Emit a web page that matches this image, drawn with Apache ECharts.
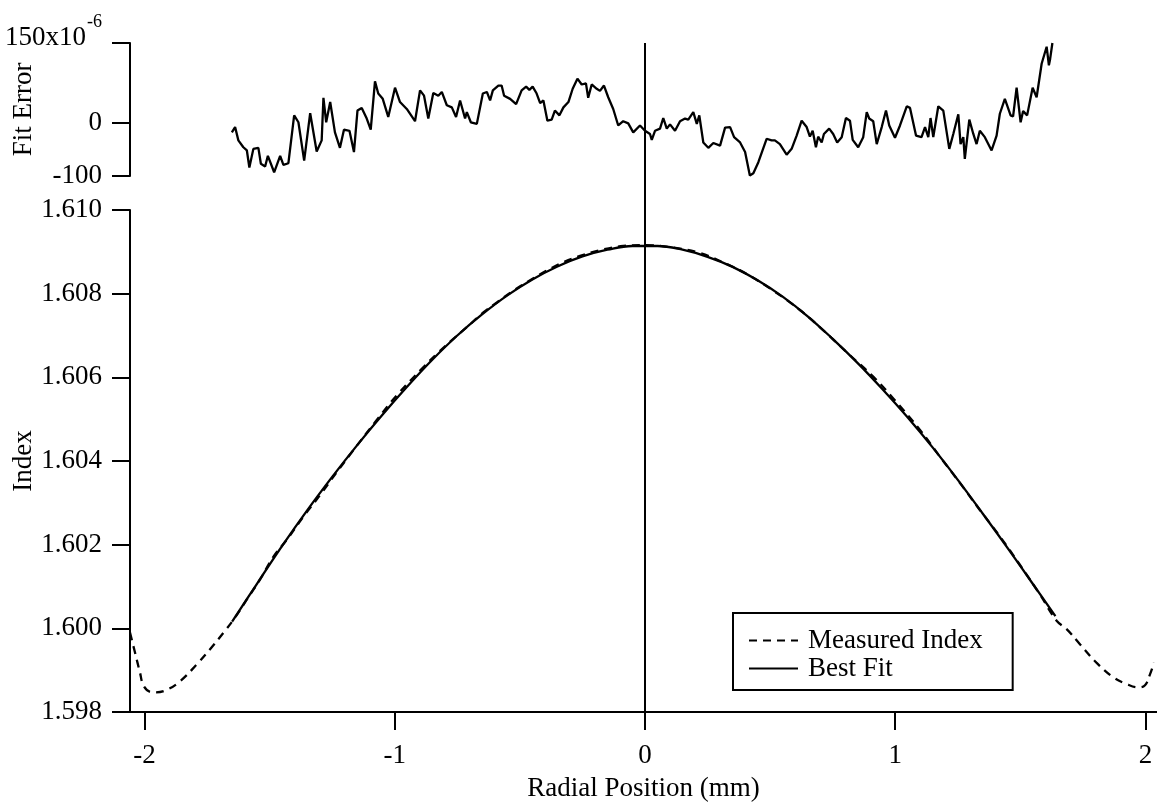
<!DOCTYPE html>
<html>
<head>
<meta charset="utf-8">
<title>Index profile and fit error</title>
<script src="https://cdn.jsdelivr.net/npm/echarts@6/dist/echarts.min.js"></script>
<style>
  html, body { margin: 0; padding: 0; background: #fff; }
  #chart { width: 1157px; height: 804px; }
</style>
</head>
<body>
<div id="chart"></div>
<script>
// Radial positions (mm) of the fit-error trace and its values (x10^-6)
const errX = [-1.651,-1.638,-1.625,-1.605,-1.591,-1.581,-1.565,-1.545,-1.535,-1.518,-1.507,-1.482,-1.458,-1.445,-1.425,-1.402,-1.385,-1.362,-1.338,-1.312,-1.292,-1.285,-1.274,-1.258,-1.239,-1.232,-1.219,-1.203,-1.181,-1.163,-1.149,-1.132,-1.112,-1.096,-1.079,-1.066,-1.048,-1.026,-0.999,-0.979,-0.952,-0.919,-0.899,-0.883,-0.866,-0.846,-0.826,-0.812,-0.792,-0.772,-0.755,-0.739,-0.719,-0.712,-0.696,-0.672,-0.648,-0.632,-0.619,-0.608,-0.586,-0.573,-0.563,-0.539,-0.515,-0.493,-0.475,-0.462,-0.449,-0.433,-0.419,-0.406,-0.390,-0.373,-0.360,-0.342,-0.326,-0.306,-0.289,-0.270,-0.253,-0.236,-0.227,-0.213,-0.193,-0.180,-0.164,-0.147,-0.127,-0.107,-0.087,-0.067,-0.047,-0.020,0.000,0.020,0.027,0.040,0.060,0.073,0.087,0.100,0.120,0.140,0.160,0.173,0.193,0.207,0.217,0.233,0.253,0.273,0.300,0.320,0.340,0.356,0.380,0.400,0.419,0.433,0.453,0.486,0.506,0.519,0.539,0.566,0.586,0.606,0.626,0.646,0.659,0.670,0.683,0.692,0.706,0.715,0.736,0.752,0.768,0.786,0.803,0.819,0.830,0.852,0.872,0.886,0.896,0.912,0.926,0.946,0.963,0.976,0.999,1.019,1.046,1.059,1.083,1.105,1.119,1.132,1.141,1.152,1.172,1.192,1.216,1.232,1.252,1.261,1.272,1.278,1.296,1.312,1.325,1.338,1.358,1.385,1.405,1.418,1.438,1.461,1.471,1.485,1.501,1.511,1.527,1.549,1.565,1.585,1.605,1.611,1.614,1.619,1.628];
const errV = [-18,-8,-33,-46,-52,-84,-49,-47,-77,-82,-62,-93,-62,-79,-76,14,1,-71,18,-54,-33,47,1,39,-18,-21,-47,-13,-15,-55,23,28,8,-13,78,55,45,11,66,39,26,3,61,51,8,56,51,58,33,29,11,42,8,20,1,-2,55,58,42,61,70,70,51,45,35,61,68,62,68,55,37,42,4,6,23,14,29,39,64,83,72,74,47,72,64,60,70,48,26,-5,3,-1,-18,-5,-15,-21,-32,-15,-11,9,-11,-3,-15,3,8,6,20,-2,14,-37,-47,-38,-43,-9,-8,-27,-37,-55,-99,-95,-74,-30,-33,-33,-40,-60,-49,-24,4,-8,-26,-15,-46,-26,-37,-21,-11,-21,-37,-27,9,4,-32,-46,-27,20,8,3,-40,-8,23,-5,-28,-5,31,28,-24,-27,-8,-27,9,-27,31,23,-49,-21,16,-40,-27,-68,6,-21,-40,-15,-27,-52,-24,17,45,14,12,66,1,22,14,66,48,111,143,140,108,120,150];

// Measured refractive index profile
const measX = [-2.058,-2.038,-2.018,-2.004,-1.977,-1.958,-1.911,-1.857,-1.791,-1.738,-1.684,-1.644,-1.591,-1.538,-1.484,-1.431,-1.365,-1.298,-1.231,-1.165,-1.072,-0.992,-0.886,-0.832,-0.766,-0.712,-0.646,-0.592,-0.526,-0.459,-0.393,-0.326,-0.246,-0.166,-0.087,0.000,0.113,0.220,0.326,0.406,0.513,0.619,0.713,0.806,0.913,0.993,1.099,1.179,1.259,1.338,1.418,1.498,1.578,1.645,1.685,1.738,1.804,1.871,1.924,1.971,1.998,2.018,2.034];
const measV = [1.59990,1.59942,1.59894,1.59863,1.59848,1.59847,1.59853,1.59874,1.59914,1.59950,1.59990,1.60021,1.60069,1.60117,1.60172,1.60212,1.60267,1.60319,1.60374,1.60426,1.60498,1.60557,1.60624,1.60656,1.60692,1.60720,1.60755,1.60779,1.60807,1.60832,1.60855,1.60875,1.60893,1.60906,1.60914,1.60916,1.60910,1.60897,1.60871,1.60847,1.60807,1.60761,1.60712,1.60660,1.60601,1.60549,1.60474,1.60410,1.60347,1.60283,1.60220,1.60152,1.60081,1.60018,1.59998,1.59962,1.59918,1.59883,1.59867,1.59859,1.59864,1.59890,1.59918];

// Best-fit index profile
const fitX = [-1.65,-1.55,-1.45,-1.35,-1.25,-1.15,-1.05,-0.95,-0.85,-0.75,-0.65,-0.55,-0.45,-0.35,-0.25,-0.15,-0.05,0.05,0.15,0.25,0.35,0.45,0.55,0.65,0.75,0.85,0.95,1.05,1.15,1.25,1.35,1.45,1.55,1.64];
const fitV = [1.60016,1.60107,1.60197,1.60282,1.60362,1.60438,1.60510,1.60578,1.60642,1.60700,1.60751,1.60796,1.60834,1.60865,1.60889,1.60905,1.60914,1.60914,1.60905,1.60888,1.60864,1.60832,1.60793,1.60746,1.60692,1.60634,1.60571,1.60504,1.60432,1.60355,1.60274,1.60191,1.60106,1.60029];

// Axis ticks
const xTicks = [-2, -1, 0, 1, 2];
const errTicks = [-100, 0, 150];
const centerLineX = [0, 0];
const centerLineY = [0, 1];

const FONT = 'Liberation Serif';
const FS = 27;
const X_MIN = -2.058, X_MAX = 2.046;

const pairs = (xs, ys) => xs.map((x, i) => [x, ys[i]]);

const axisLine = { show: true, onZero: false, lineStyle: { color: '#000', width: 2 } };
const tick = (vals) => ({ show: true, inside: false, length: 18, lineStyle: { color: '#000', width: 2 }, customValues: vals });
const labelText = { color: '#000', fontFamily: FONT, fontSize: FS };
const gridBase = { left: 130, right: 0, containLabel: false, outerBoundsMode: 'none' };

const chart = echarts.init(document.getElementById('chart'), null, { renderer: 'canvas' });

chart.setOption({
  backgroundColor: '#fff',
  animation: false,
  grid: [
    Object.assign({ top: 43, height: 133 }, gridBase),
    Object.assign({ top: 210, height: 502 }, gridBase),
    Object.assign({ top: 43, height: 670 }, gridBase)
  ],
  xAxis: [
    { gridIndex: 0, type: 'value', min: X_MIN, max: X_MAX, show: false, axisLine: { onZero: false } },
    {
      gridIndex: 1, type: 'value', min: X_MIN, max: X_MAX,
      axisLine: axisLine,
      axisTick: tick(xTicks),
      axisLabel: Object.assign({ margin: 30, customValues: xTicks, formatter: v => String(v) }, labelText),
      splitLine: { show: false },
      name: 'Radial Position (mm)', nameLocation: 'middle', nameGap: 63, nameMoveOverlap: false,
      nameTextStyle: labelText
    },
    { gridIndex: 2, type: 'value', min: X_MIN, max: X_MAX, show: false, axisLine: { onZero: false } }
  ],
  yAxis: [
    {
      gridIndex: 0, type: 'value', min: -100, max: 150,
      axisLine: axisLine,
      axisTick: tick(errTicks),
      axisLabel: Object.assign({
        margin: 28, customValues: errTicks,
        formatter: v => (v === 150 ? '{a|150x10}{s|-6}' : String(v)),
        rich: {
          a: { fontFamily: FONT, fontSize: FS, color: '#000', lineHeight: 30, padding: [12, 0, 22, 0] },
          s: { fontFamily: FONT, fontSize: 18, color: '#000', lineHeight: 20, padding: [0, 0, 42, 1] }
        }
      }, labelText),
      splitLine: { show: false },
      name: 'Fit Error', nameLocation: 'middle', nameGap: 93, nameMoveOverlap: false,
      nameTextStyle: labelText
    },
    {
      gridIndex: 1, type: 'value', min: 1.598, max: 1.610, interval: 0.002,
      axisLine: axisLine,
      axisTick: { show: true, inside: false, length: 18, lineStyle: { color: '#000', width: 2 } },
      axisLabel: Object.assign({ margin: 28, formatter: v => v.toFixed(3) }, labelText),
      splitLine: { show: false },
      name: 'Index', nameLocation: 'middle', nameGap: 93, nameMoveOverlap: false,
      nameTextStyle: labelText
    },
    { gridIndex: 2, type: 'value', min: 0, max: 1, show: false, axisLine: { onZero: false } }
  ],
  legend: {
    data: ['Measured Index', 'Best Fit'],
    orient: 'vertical',
    left: 733, top: 613,
    padding: [14, 30, 8, 15],
    itemWidth: 49, itemHeight: 14, itemGap: 1,
    borderColor: '#000', borderWidth: 2,
    itemStyle: { opacity: 0 },
    textStyle: Object.assign({ padding: [0, 0, 0, 5] }, labelText)
  },
  series: [
    {
      name: 'Fit Error', type: 'line', xAxisIndex: 0, yAxisIndex: 0,
      data: pairs(errX, errV), showSymbol: false, symbol: 'none',
      lineStyle: { color: '#000', width: 2.3 }, silent: true
    },
    {
      name: 'Best Fit', type: 'line', xAxisIndex: 1, yAxisIndex: 1,
      data: pairs(fitX, fitV), showSymbol: false, symbol: 'none', smooth: 0.4,
      lineStyle: { color: '#000', width: 2.3, type: 'solid' },
      itemStyle: { color: '#000' }, silent: true
    },
    {
      name: 'Measured Index', type: 'line', xAxisIndex: 1, yAxisIndex: 1,
      data: pairs(measX, measV), showSymbol: false, symbol: 'none', smooth: 0.4,
      lineStyle: { color: '#000', width: 2.3, type: [8, 6] },
      itemStyle: { color: '#000' }, silent: true
    },
    {
      name: 'center', type: 'line', xAxisIndex: 2, yAxisIndex: 2,
      data: pairs(centerLineX, centerLineY), showSymbol: false, symbol: 'none',
      lineStyle: { color: '#000', width: 2 }, silent: true
    }
  ]
});
</script>
</body>
</html>
